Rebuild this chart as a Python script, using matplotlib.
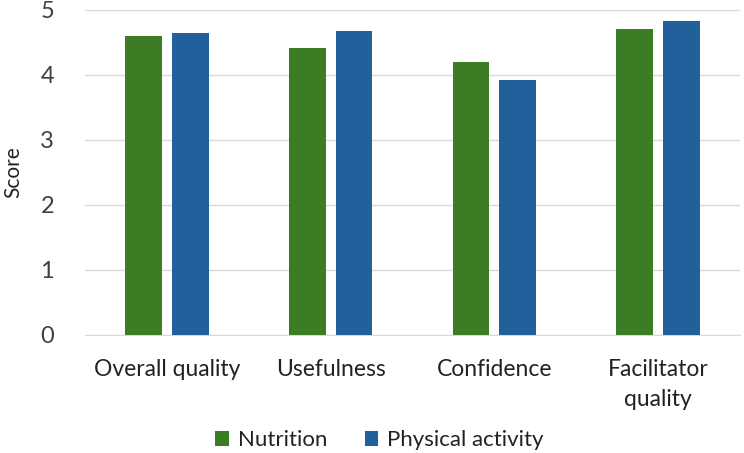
import matplotlib
matplotlib.use("Agg")
import matplotlib.pyplot as plt
import numpy as np

categories = ["Overall quality", "Usefulness", "Confidence", "Facilitator\nquality"]
nutrition = [4.60, 4.42, 4.20, 4.70]
physical = [4.64, 4.68, 3.92, 4.83]
yticks = [0, 1, 2, 3, 4, 5]

plt.rcParams['font.family'] = ['Lato', 'DejaVu Sans']
fig = plt.figure(figsize=(7.44, 4.53), dpi=100)
ax = fig.add_axes([0.114, 0.2605, 0.881, 0.7175])

x = np.arange(len(categories))
w = 0.225
off = 0.143
ax.bar(x - off, nutrition, w, color="#3b7c25", label="Nutrition", zorder=3)
ax.bar(x + off, physical, w, color="#21609b", label="Physical activity", zorder=3)

ax.set_xlim(-0.5, len(categories) - 0.5)
ax.set_ylim(0, 5)
ax.set_yticks(yticks)
ax.yaxis.grid(True, color="#d9d9d9", linewidth=1, zorder=0)
for s in ax.spines.values():
    s.set_visible(False)
ax.spines['bottom'].set_visible(True)
ax.spines['bottom'].set_color("#d9d9d9")
ax.tick_params(axis='y', length=0, labelsize=17, colors="#404040", pad=22)
ax.tick_params(axis='x', length=0, labelsize=16.5, colors="#222222", pad=17)
ax.set_xticks(x)
ax.set_xticklabels(categories, color="#222222", linespacing=1.55)
ax.set_yticklabels([str(t) for t in yticks], color="#404040")
ax.set_ylabel("Score", fontsize=15, color="#222222")
ax.yaxis.set_label_coords(-0.094, 0.5)

fig.legend(loc="center", bbox_to_anchor=(0.51, 0.028), ncol=2, frameon=False,
           fontsize=16, handlelength=0.6, handleheight=0.6, handletextpad=0.4,
           columnspacing=1.7, labelcolor="#222222")

fig.savefig("out.png", dpi=100)
